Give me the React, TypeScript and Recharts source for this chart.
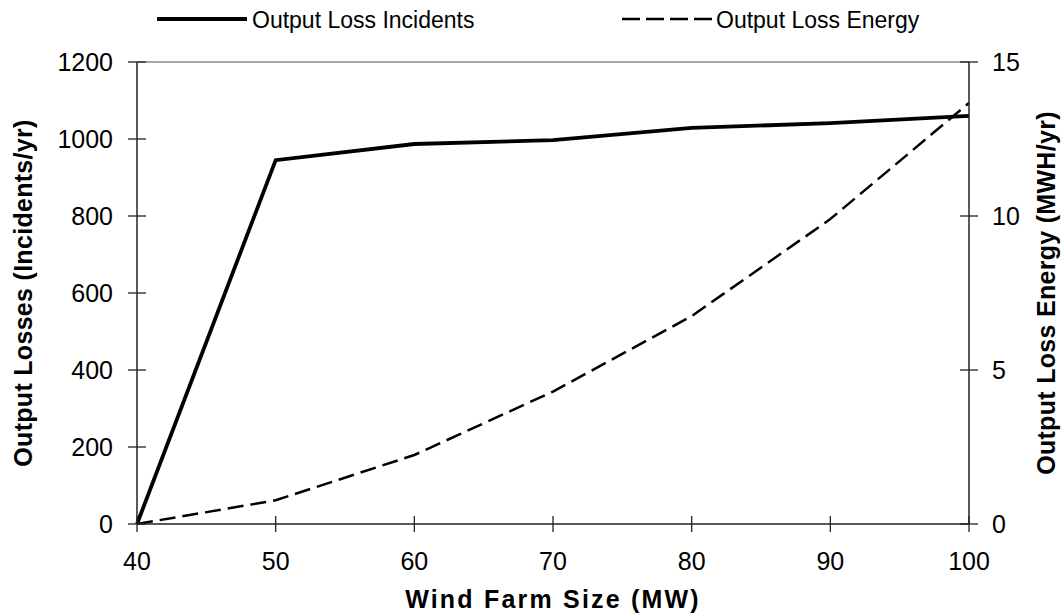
import { LineChart, Line, XAxis, YAxis, ReferenceLine, Label } from 'recharts';

const farmSizes = [40, 50, 60, 70, 80, 90, 100];
const lossIncidents = [0, 945, 987, 997, 1029, 1041, 1060];
const lossEnergy = [0, 0.77, 2.24, 4.3, 6.75, 9.9, 13.67];

const xTicks = [40, 50, 60, 70, 80, 90, 100];
const leftTicks = [0, 200, 400, 600, 800, 1000, 1200];
const rightTicks = [0, 5, 10, 15];

const data = farmSizes.map((size, i) => ({
  size,
  incidents: lossIncidents[i],
  energy: lossEnergy[i],
}));

const FONT = '"Liberation Sans", Arial, sans-serif';
const DASH = '16 7';

const LeftTick = (props: any) => {
  const { x, y, payload } = props;
  return (
    <g>
      <line x1={x - 9} x2={x + 9} y1={y} y2={y} stroke="#222" strokeWidth={1.3} />
      <text x={x - 24} y={y} textAnchor="end" dominantBaseline="central" fontSize={25} fontFamily={FONT} fill="#000">
        {payload.value}
      </text>
    </g>
  );
};

const RightTick = (props: any) => {
  const { x, y, payload } = props;
  return (
    <g>
      <line x1={x - 9} x2={x + 9} y1={y} y2={y} stroke="#222" strokeWidth={1.3} />
      <text x={x + 23} y={y} textAnchor="start" dominantBaseline="central" fontSize={25} fontFamily={FONT} fill="#000">
        {payload.value}
      </text>
    </g>
  );
};

const BottomTick = (props: any) => {
  const { x, y, payload } = props;
  return (
    <g>
      <line x1={x} x2={x} y1={y - 8} y2={y + 8} stroke="#222" strokeWidth={1.3} />
      <text x={x} y={y + 37} textAnchor="middle" dominantBaseline="central" fontSize={25} fontFamily={FONT} fill="#000">
        {payload.value}
      </text>
    </g>
  );
};

const App = () => {
  return (
    <div style={{ position: 'absolute', left: 0, top: 0, width: 1063, height: 613, background: '#fff' }}>
      <svg width={1063} height={40} style={{ position: 'absolute', left: 0, top: 0 }}>
        <line x1={157} x2={247} y1={19} y2={19} stroke="#000" strokeWidth={3.8} />
        <text x={252} y={20} dominantBaseline="central" fontSize={23} fontFamily={FONT}>Output Loss Incidents</text>
        <line x1={622} x2={712} y1={19} y2={19} stroke="#000" strokeWidth={2.6} strokeDasharray="18 6" />
        <text x={716} y={20} dominantBaseline="central" fontSize={23} fontFamily={FONT}>Output Loss Energy</text>
      </svg>
      <LineChart width={1063} height={613} data={data} margin={{ top: 62, right: 0, bottom: 0, left: 0 }}>
        <XAxis
          dataKey="size"
          type="number"
          domain={[40, 100]}
          ticks={xTicks}
          height={89}
          tickSize={0}
          tickMargin={0}
          tickLine={false}
          tick={<BottomTick />}
          axisLine={{ stroke: '#222', strokeWidth: 1.5 }}
        >
          <Label
            content={(p: any) => (
              <text
                x={p.viewBox.x + p.viewBox.width / 2}
                y={p.viewBox.y + 75}
                textAnchor="middle"
                dominantBaseline="central"
                fontSize={25}
                fontWeight="bold"
                letterSpacing={2.2}
                fontFamily={FONT}
                fill="#000"
              >
                Wind Farm Size (MW)
              </text>
            )}
          />
        </XAxis>
        <YAxis
          yAxisId="left"
          domain={[0, 1200]}
          ticks={leftTicks}
          width={137}
          tickSize={0}
          tickMargin={0}
          tickLine={false}
          tick={<LeftTick />}
          axisLine={{ stroke: '#222', strokeWidth: 1.5 }}
        >
          <Label
            content={(p: any) => {
              const cx = p.viewBox.x + 23;
              const cy = p.viewBox.y + p.viewBox.height / 2;
              return (
                <text
                  x={cx}
                  y={cy}
                  transform={`rotate(-90 ${cx} ${cy})`}
                  textAnchor="middle"
                  dominantBaseline="central"
                  fontSize={25}
                  fontWeight="bold"
                  letterSpacing={0.3}
                  fontFamily={FONT}
                  fill="#000"
                >
                  Output Losses (Incidents/yr)
                </text>
              );
            }}
          />
        </YAxis>
        <YAxis
          yAxisId="right"
          orientation="right"
          domain={[0, 15]}
          ticks={rightTicks}
          width={94}
          tickSize={0}
          tickMargin={0}
          tickLine={false}
          tick={<RightTick />}
          axisLine={{ stroke: '#222', strokeWidth: 1.5 }}
        >
          <Label
            content={(p: any) => {
              const cx = p.viewBox.x + 77;
              const cy = p.viewBox.y + p.viewBox.height / 2;
              return (
                <text
                  x={cx}
                  y={cy}
                  transform={`rotate(-90 ${cx} ${cy})`}
                  textAnchor="middle"
                  dominantBaseline="central"
                  fontSize={25}
                  fontWeight="bold"
                  letterSpacing={0.3}
                  fontFamily={FONT}
                  fill="#000"
                >
                  Output Loss Energy (MWH/yr)
                </text>
              );
            }}
          />
        </YAxis>
        <ReferenceLine yAxisId="left" y={1200} stroke="#888" strokeWidth={1.5} />
        <Line
          yAxisId="right"
          type="linear"
          dataKey="energy"
          stroke="#000"
          strokeWidth={2.5}
          strokeDasharray={DASH}
          dot={false}
          isAnimationActive={false}
        />
        <Line
          yAxisId="left"
          type="linear"
          dataKey="incidents"
          stroke="#000"
          strokeWidth={3.8}
          dot={false}
          isAnimationActive={false}
        />
      </LineChart>
    </div>
  );
};

export default App;
